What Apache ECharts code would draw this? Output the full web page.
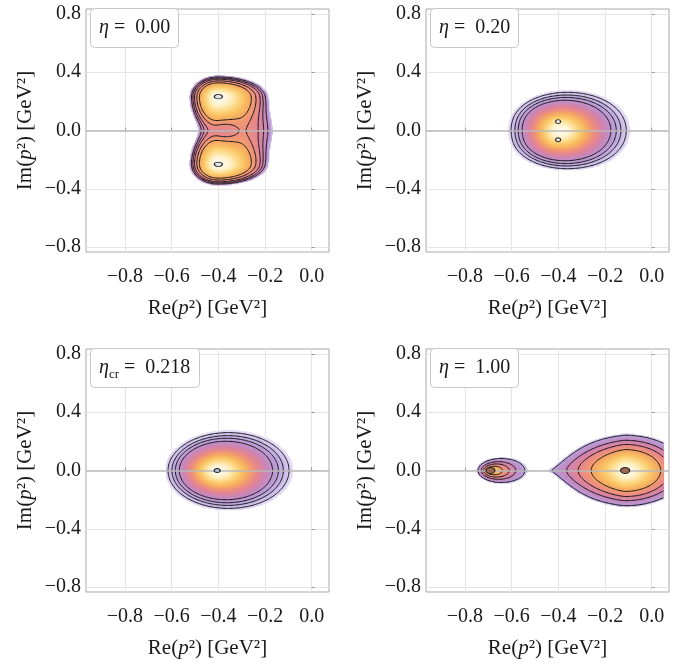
<!DOCTYPE html>
<html><head><meta charset="utf-8">
<script src="https://cdn.jsdelivr.net/npm/echarts@6/dist/echarts.min.js"></script>
<style>html,body{margin:0;padding:0;background:#fff}#c{width:686px;height:664px}</style>
</head><body><div id="c"></div>
<script>
// ---------------- data ----------------
const xTickLabels = [-0.8, -0.6, -0.4, -0.2, 0.0];
const yTickLabels = [-0.8, -0.4, 0.0, 0.4, 0.8];
const xRange = [-0.967, 0.074];
const yRange = [-0.834, 0.834];
const etaNames = ['η', 'η', 'η', 'η'];
const etaSubs = ['', '', 'cr', ''];
const etaValues = ['0.00', '0.20', '0.218', '1.00'];

// maxima of the density (small marked ellipses)
const peaks1 = [[-0.400, 0.232], [-0.400, -0.232]];
const peaks2 = [[-0.401, 0.061], [-0.401, -0.063]];
const peaks3 = [[-0.405, 0.000]];
const peaks4 = [[-0.691, 0.000], [-0.114, 0.000]];

// blobs: centre, half-widths (left/right/down/up) or
// elliptic contours (half-width a, centre drift "shift", half-heights)
const lobes1 = [
  {cx: -0.400, cy: 0.232, axl: 0.076, axr: 0.130, ayd: 0.145, ayu: 0.090},
  {cx: -0.400, cy: -0.232, axl: 0.076, axr: 0.130, ayd: 0.090, ayu: 0.145},
  {cx: -0.280, cy: 0.000, axl: 0.070, axr: 0.120, ayd: 0.160, ayu: 0.160, amp: 0.17},
  {cx: -0.440, cy: 0.000, axl: 0.060, axr: 0.050, ayd: 0.200, ayu: 0.200, amp: 0.06}
];
const lobes2 = [
  {cx: -0.401, cy: 0.062, a: 0.147, shift: 0.026, ayd: 0.130, ayu: 0.130, amp: 0.627},
  {cx: -0.401, cy: -0.062, a: 0.147, shift: 0.026, ayd: 0.130, ayu: 0.130, amp: 0.627}
];
const lobes3 = [
  {cx: -0.405, cy: 0.000, a: 0.1545, shift: 0.029, ayd: 0.155, ayu: 0.155}
];
const lobes4 = [
  {cx: -0.691, cy: 0.000, a: 0.0356, shift: 0.0167, ayd: 0.0292, ayu: 0.0292, e: 1},
  {cx: -0.114, cy: 0.000, axl: 0.146, axr: 0.153, ayd: 0.144, ayu: 0.144, pxl: 1.35, taper4: 80, tmin: 0.15}
];

// contour levels (fraction of the maximum)
const levels1 = [0.105, 0.133, 0.170, 0.237, 0.330];
const levels2 = [0.060, 0.092, 0.130, 0.188];
const levels3 = [0.060, 0.092, 0.130, 0.188];
const levels4 = [0.060, 0.126, 0.214, 0.370];

// ---------------- styling ----------------
const FONT = 'Liberation Serif';
const TXT = '#1a1a1a';
const CMAP = [
  [0.00, [230, 222, 246]],
  [0.08, [198, 182, 229]],
  [0.18, [186, 152, 212]],
  [0.30, [201, 134, 185]],
  [0.42, [225, 132, 150]],
  [0.53, [238, 144, 124]],
  [0.63, [245, 166, 100]],
  [0.75, [249, 194, 98]],
  [0.86, [252, 220, 140]],
  [0.94, [254, 240, 198]],
  [1.00, [255, 250, 237]]
];
const fieldX = [-0.951, 0.053];
const fieldY = [-0.834, 0.834];
const XSTEP = 0.005, YSTEP = 0.008;

const panelDefs = [
  {lobes: lobes1, levels: levels1, peaks: peaks1, low: 0.08, gamma: 0.37, mode: 'sum', peakFill: '#dde3e6', peakSize: [8, 4.5]},
  {lobes: lobes2, levels: levels2, peaks: peaks2, low: 0.045, gamma: 0.8, mode: 'sum', peakFill: '#e9e9e9', peakSize: [5, 4]},
  {lobes: lobes3, levels: levels3, peaks: peaks3, low: 0.045, gamma: 0.8, mode: 'sum', peakFill: '#a9c7da', peakSize: [6, 4]},
  {lobes: lobes4, levels: levels4, peaks: peaks4, low: 0.05, gamma: 0.47, mode: 'max', peakFill: '#99684f', peakSize: [9, 6]}
];
const gridPos = [
  {left: 86, top: 9}, {left: 426, top: 9}, {left: 86, top: 349}, {left: 426, top: 349}
];

// ---------------- field + contours ----------------
function lobeVal(L, x, y) {
  const dx = x - L.cx;
  const dy = y - L.cy;
  const amp = L.amp == null ? 1 : L.amp;
  let ay = dy < 0 ? L.ayd : L.ayu;
  if (L.shift != null) {
    const a = L.a, s = L.shift;
    const Y = dy * a / ay;
    const D = a * a - s * s;
    const rho = (-dx * s + Math.sqrt(dx * dx * s * s + D * (dx * dx + Y * Y))) / D;
    return amp * Math.exp(-Math.pow(rho, L.e || 2));
  }
  const ax = dx < 0 ? L.axl : L.axr;
  if (L.taper4 && dx < 0) ay *= Math.max(L.tmin || 0.03, 1 - L.taper4 * dx * dx * dx * dx);
  const ex = (dx < 0 && L.pxl) ? L.pxl : 2;
  const q = Math.pow(Math.abs(dx) / ax, ex) + (dy / ay) * (dy / ay);
  return amp * Math.exp(-q);
}
function buildGrid(lobes, mode) {
  const xs = [], ys = [];
  for (let x = fieldX[0]; x <= fieldX[1] + 1e-9; x += XSTEP) xs.push(+x.toFixed(4));
  for (let y = fieldY[0]; y <= fieldY[1] + 1e-9; y += YSTEP) ys.push(+y.toFixed(4));
  const F = ys.map(y => xs.map(x => {
    const v = lobes.map(L => lobeVal(L, x, y));
    return mode === 'max' ? Math.max(...v) : v.reduce((s, a) => s + a, 0);
  }));
  return {xs, ys, F};
}
function contour(G, lev) {
  const {xs, ys, F} = G;
  const nx = xs.length, ny = ys.length;
  const pts = new Map();
  const segs = [];
  const keyOf = (i, j, e) => {
    if (e === 0) return 'h' + i + '_' + j;
    if (e === 2) return 'h' + i + '_' + (j + 1);
    if (e === 3) return 'v' + i + '_' + j;
    return 'v' + (i + 1) + '_' + j;
  };
  const interp = (xa, ya, va, xb, yb, vb) => {
    const t = (lev - va) / (vb - va);
    return [xa + (xb - xa) * t, ya + (yb - ya) * t];
  };
  for (let j = 0; j < ny - 1; j++) {
    for (let i = 0; i < nx - 1; i++) {
      const v0 = F[j][i], v1 = F[j][i + 1], v2 = F[j + 1][i + 1], v3 = F[j + 1][i];
      const c = (v0 >= lev ? 1 : 0) | (v1 >= lev ? 2 : 0) | (v2 >= lev ? 4 : 0) | (v3 >= lev ? 8 : 0);
      if (c === 0 || c === 15) continue;
      const ep = e => {
        const k = keyOf(i, j, e);
        if (!pts.has(k)) {
          let p;
          if (e === 0) p = interp(xs[i], ys[j], v0, xs[i + 1], ys[j], v1);
          else if (e === 1) p = interp(xs[i + 1], ys[j], v1, xs[i + 1], ys[j + 1], v2);
          else if (e === 2) p = interp(xs[i], ys[j + 1], v3, xs[i + 1], ys[j + 1], v2);
          else p = interp(xs[i], ys[j], v0, xs[i], ys[j + 1], v3);
          pts.set(k, p);
        }
        return k;
      };
      const add = (a, b) => segs.push([ep(a), ep(b)]);
      const center = (v0 + v1 + v2 + v3) / 4 >= lev;
      switch (c) {
        case 1: case 14: add(3, 0); break;
        case 2: case 13: add(0, 1); break;
        case 3: case 12: add(3, 1); break;
        case 4: case 11: add(1, 2); break;
        case 6: case 9: add(0, 2); break;
        case 7: case 8: add(3, 2); break;
        case 5: if (center) { add(0, 1); add(2, 3); } else { add(3, 0); add(1, 2); } break;
        case 10: if (center) { add(3, 0); add(1, 2); } else { add(0, 1); add(2, 3); } break;
      }
    }
  }
  const byKey = new Map();
  segs.forEach((s, n) => {
    s.forEach(k => { if (!byKey.has(k)) byKey.set(k, []); byKey.get(k).push(n); });
  });
  const used = new Array(segs.length).fill(false);
  const paths = [];
  for (let n = 0; n < segs.length; n++) {
    if (used[n]) continue;
    used[n] = true;
    const chain = [segs[n][0], segs[n][1]];
    const extend = (forward) => {
      while (true) {
        const end = forward ? chain[chain.length - 1] : chain[0];
        const cand = (byKey.get(end) || []).find(m => !used[m]);
        if (cand == null) break;
        used[cand] = true;
        const s = segs[cand];
        const nk = s[0] === end ? s[1] : s[0];
        if (forward) chain.push(nk); else chain.unshift(nk);
      }
    };
    extend(true); extend(false);
    paths.push(chain.map(k => pts.get(k)));
  }
  return paths;
}
function cmap(t) {
  t = Math.min(1, Math.max(0, t));
  for (let k = 1; k < CMAP.length; k++) {
    if (t <= CMAP[k][0]) {
      const [t0, c0] = CMAP[k - 1], [t1, c1] = CMAP[k];
      const u = (t - t0) / (t1 - t0);
      return 'rgb(' + [0, 1, 2].map(m => Math.round(c0[m] + (c1[m] - c0[m]) * u)).join(',') + ')';
    }
  }
  return 'rgb(255,250,237)';
}

// ---------------- option ----------------
const fmt = v => (v < -1e-9 ? '−' : '') + Math.abs(v).toFixed(1);
const isIn = (arr, v) => arr.some(t => Math.abs(t - v) < 1e-6);
const nameStyle = {
  fontFamily: FONT, fontSize: 21, color: TXT,
  rich: {i: {fontFamily: FONT, fontSize: 21, fontStyle: 'italic', color: TXT}}
};

const grids = [], xAxes = [], yAxes = [], series = [], titles = [];
panelDefs.forEach((P, gi) => {
  grids.push({left: gridPos[gi].left, top: gridPos[gi].top, width: 243, height: 243,
    show: true, borderColor: '#a9a9a9', borderWidth: 1});
  xAxes.push({
    type: 'value', gridIndex: gi, min: xRange[0], max: xRange[1], splitNumber: 5,
    axisLine: {show: false},
    axisTick: {show: true, inside: true, length: 3, customValues: xTickLabels, lineStyle: {color: '#9a9a9a'}},
    splitLine: {show: true, lineStyle: {color: '#e5e5e5', width: 1}},
    axisLabel: {customValues: xTickLabels, formatter: v => isIn(xTickLabels, v) ? fmt(v) : '',
      fontFamily: FONT, fontSize: 20, color: TXT, margin: 15},
    name: 'Re({i|p}²) [GeV²]', nameLocation: 'middle', nameGap: 46, nameTextStyle: nameStyle
  });
  yAxes.push({
    type: 'value', gridIndex: gi, min: yRange[0], max: yRange[1], splitNumber: 8,
    axisLine: {show: false},
    axisTick: {show: true, inside: true, length: 3, customValues: yTickLabels, lineStyle: {color: '#9a9a9a'}},
    splitLine: {show: true, lineStyle: {color: '#e5e5e5', width: 1}},
    axisLabel: {customValues: yTickLabels, formatter: v => isIn(yTickLabels, v) ? fmt(v) : '',
      fontFamily: FONT, fontSize: 20, color: TXT, margin: 5},
    name: 'Im({i|p}²) [GeV²]', nameLocation: 'middle', nameGap: 50, nameTextStyle: nameStyle
  });

  const G = buildGrid(P.lobes, P.mode);
  const fillData = [];
  G.ys.forEach((y, j) => G.xs.forEach((x, i) => {
    const f = G.F[j][i];
    if (f >= P.low) fillData.push([x, y, f]);
  }));
  const hx = XSTEP / 2, hy = YSTEP / 2;
  series.push({
    type: 'custom', xAxisIndex: gi, yAxisIndex: gi, z: 1, clip: true, silent: true,
    progressive: 0, animation: false,
    encode: {x: 0, y: 1},
    data: fillData,
    renderItem: (params, api) => {
      const x = api.value(0), y = api.value(1), f = api.value(2);
      const a = api.coord([x - hx, y + hy]);
      const b = api.coord([x + hx, y - hy]);
      const t = Math.pow(Math.max(0, (f - P.low) / (1 - P.low)), P.gamma);
      return {type: 'rect', shape: {x: a[0] - 0.35, y: a[1] - 0.35, width: b[0] - a[0] + 0.7, height: b[1] - a[1] + 0.7},
        style: {fill: cmap(t)}};
    }
  });

  const paths = [];
  P.levels.forEach(lev => contour(G, lev).forEach(p => { if (p.length > 1) paths.push(p); }));
  series.push({
    type: 'custom', xAxisIndex: gi, yAxisIndex: gi, z: 3, clip: true, silent: true,
    progressive: 0, animation: false,
    encode: {x: 0, y: 1},
    data: paths.map((p, k) => [p[0][0], p[0][1], k]),
    renderItem: (params, api) => {
      const p = paths[params.dataIndex];
      return {type: 'polyline', shape: {points: p.map(pt => api.coord(pt))},
        style: {stroke: '#161616', lineWidth: 1, fill: 'none', lineJoin: 'round'}};
    },
    markLine: {silent: true, symbol: ['none', 'none'], animation: false, label: {show: false},
      lineStyle: {color: '#b9b9b9', width: 1.6, type: 'solid'}, data: [{yAxis: 0}]}
  });
  series.push({
    type: 'scatter', xAxisIndex: gi, yAxisIndex: gi, z: 7, silent: true, animation: false,
    symbol: 'circle', symbolSize: P.peakSize,
    itemStyle: {color: P.peakFill, borderColor: '#222', borderWidth: 1, opacity: 1},
    data: P.peaks
  });

  const sub = etaSubs[gi];
  titles.push({
    text: '{e|' + etaNames[gi] + '}' + (sub ? '{s|' + sub + '}' : '') + ' =  ' + etaValues[gi],
    left: gridPos[gi].left + 4, top: gridPos[gi].top - 1,
    padding: [7, 9, 7, 9], backgroundColor: '#ffffff', borderColor: '#c9c9c9', borderWidth: 1, borderRadius: 4,
    textStyle: {fontFamily: FONT, fontSize: 20, fontWeight: 'normal', color: TXT, lineHeight: 26,
      rich: {
        e: {fontFamily: FONT, fontSize: 20, fontStyle: 'italic', color: TXT, lineHeight: 26},
        s: {fontFamily: FONT, fontSize: 13, color: TXT, lineHeight: 13, verticalAlign: 'bottom'}
      }}
  });
});

const chart = echarts.init(document.getElementById('c'), null, {renderer: 'canvas'});
chart.setOption({
  animation: false,
  backgroundColor: '#ffffff',
  title: titles,
  grid: grids,
  xAxis: xAxes,
  yAxis: yAxes,
  series: series
});
</script></body></html>
